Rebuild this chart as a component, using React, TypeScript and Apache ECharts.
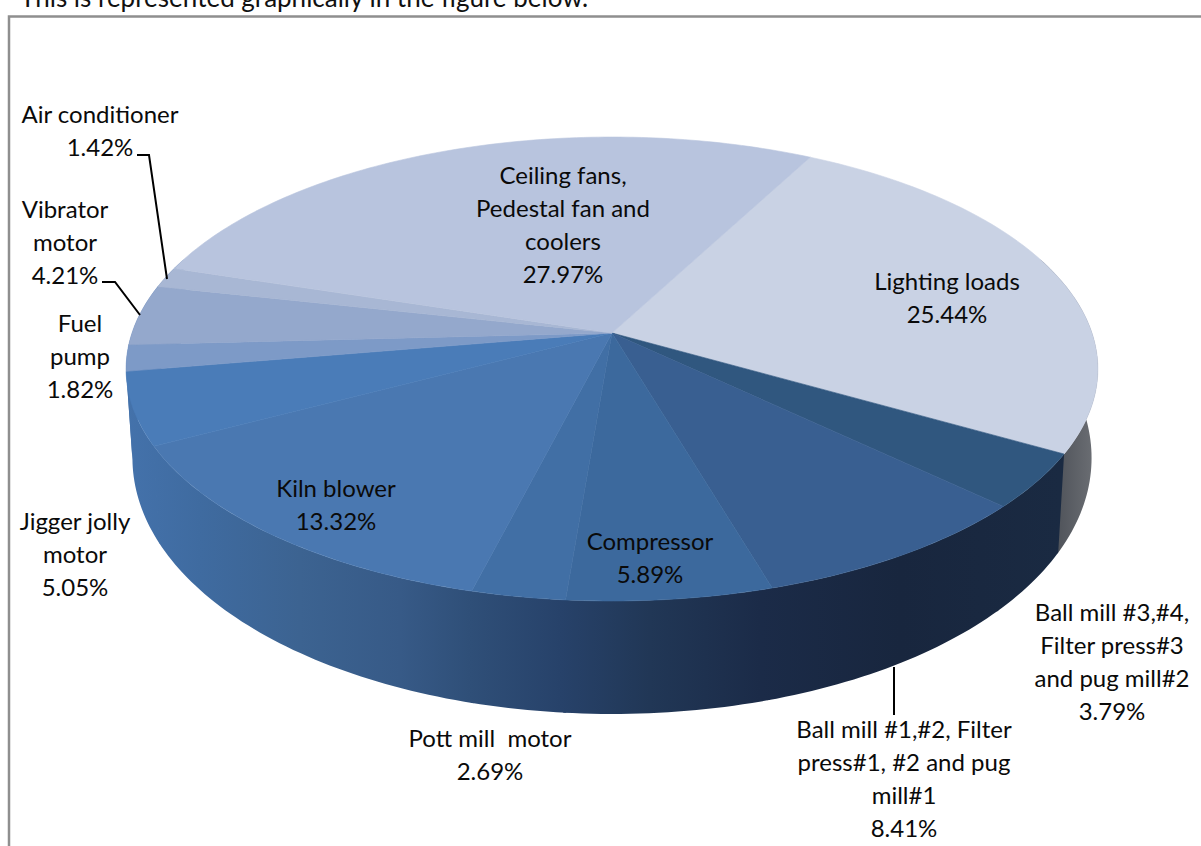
import React, { useEffect, useRef } from "react";
import * as echarts from "echarts";

// Electrical load shares, clockwise from the start of the first slice.
const loadNames = [
  "Lighting loads",
  "Ball mill #3,#4,\nFilter press#3\nand pug mill#2",
  "Ball mill #1,#2, Filter\npress#1, #2 and pug\nmill#1",
  "Compressor",
  "Pott mill  motor",
  "Kiln blower",
  "Jigger jolly\nmotor",
  "Fuel\npump",
  "Vibrator\nmotor",
  "Air conditioner",
  "Ceiling fans,\nPedestal fan and\ncoolers",
];
const loadShares = [25.44, 3.79, 8.41, 5.89, 2.69, 13.32, 5.05, 1.82, 4.21, 1.42, 27.97];

// Styling and layout, kept apart from the values.
const topColors = [
  "#c9d2e4", "#30577f", "#395f91", "#3c699d", "#416fa5", "#4a78b1",
  "#4a7cb8", "#7d9ac7", "#94a8cc", "#a8b7d4", "#b8c4de",
];
const sideStops: [number, string][] = [
  [125, "#4472ab"], [200, "#3f6ba0"], [300, "#3c6391"], [400, "#375a87"],
  [470, "#2f4f78"], [560, "#27426a"], [650, "#213756"], [760, "#1b2b48"],
  [900, "#18263e"], [1060, "#1a2a42"],
];
const labelCenters: [number, number][] = [
  [947, 297], [1112, 661], [904, 778], [650, 557], [490, 754], [336, 504],
  [75, 553], [80, 355], [65, 241], [100, 130], [563, 224],
];
const leaderLines: [number, number][][] = [
  [[137, 155], [149, 155], [167, 279]],
  [[102, 282], [115, 282], [140, 315]],
  [[894, 667], [894, 715]],
];

const FONT = "Lato";
const FONT_SIZE = 24;
const HEADING_SIZE = 26;
const LINE_HEIGHT = 33;

// Perspective projection of the pie's unit circle onto the page.
const CX = 612;
const HALF_WIDTH = 480;
const CENTER_Y = 333;
const DEPTH_SPAN = 174.7;
const PERSPECTIVE = 0.1552;
const START_DEG = 28;

// Part of the rim whose outer wall can be seen, in degrees clockwise from the back.
const WALL_FROM = 70;
const WALL_TO = 290;

const rimPoint = (deg: number): [number, number] => {
  const a = (deg * Math.PI) / 180;
  const x = Math.sin(a);
  const y = -Math.cos(a);
  const w = 1 - PERSPECTIVE * y;
  return [CX + (HALF_WIDTH * x) / w, (CENTER_Y + DEPTH_SPAN * y) / w];
};

const basePoint = (deg: number): [number, number] => {
  const [px, py] = rimPoint(deg);
  const y = -Math.cos((deg * Math.PI) / 180);
  return [CX + (px - CX) * 0.987, py + 84.5 + 28.5 * y];
};

const total = loadShares.reduce((s, v) => s + v, 0);
const sliceAngles = (index: number): [number, number] => {
  const before = loadShares.slice(0, index).reduce((s, v) => s + v, 0);
  return [
    START_DEG + (before / total) * 360,
    START_DEG + ((before + loadShares[index]) / total) * 360,
  ];
};

const arcAngles = (from: number, to: number): number[] => {
  const steps = Math.max(2, Math.ceil(to - from));
  const out: number[] = [];
  for (let i = 0; i <= steps; i++) out.push(from + ((to - from) * i) / steps);
  return out;
};

const sideGradient = new echarts.graphic.LinearGradient(
  125, 0, 1060, 0,
  sideStops.map(([x, color]) => ({ offset: (x - 125) / (1060 - 125), color })),
  true,
);
const lightingSideGradient = new echarts.graphic.LinearGradient(
  1055, 0, 1098, 0,
  [{ offset: 0, color: "#4e5259" }, { offset: 1, color: "#6e7176" }],
  true,
);

export default function App() {
  const ref = useRef<HTMLDivElement>(null);

  useEffect(() => {
    document.body.style.margin = "0";
    const chart = echarts.init(ref.current!, undefined, { renderer: "svg" });

    const labelTexts = loadNames.map((name, i) => ({
      type: "text",
      x: labelCenters[i][0],
      y: labelCenters[i][1],
      z: 20,
      style: {
        text: `${name}\n${loadShares[i].toFixed(2)}%`,
        font: `${FONT_SIZE}px ${FONT}`,
        fill: "#0a0a0a",
        align: "center",
        verticalAlign: "middle",
        lineHeight: LINE_HEIGHT,
      },
    }));

    const leaders = leaderLines.map((points) => ({
      type: "polyline",
      z: 15,
      shape: { points },
      style: { stroke: "#000", lineWidth: 2, fill: "none" },
    }));

    chart.setOption({
      animation: false,
      backgroundColor: "#fff",
      graphic: [
        {
          type: "text",
          x: 20,
          y: -3,
          z: 20,
          style: {
            text: "This is represented graphically in the figure below.",
            font: `${HEADING_SIZE}px ${FONT}`,
            fill: "#111",
            verticalAlign: "middle",
          },
        },
        {
          type: "polyline",
          z: 1,
          shape: { points: [[9, 846], [9, 16.5], [1201, 16.5]] },
          style: { stroke: "#8f8f8f", lineWidth: 2.5, fill: "none" },
        },
        ...leaders,
        ...labelTexts,
      ],
      series: [
        {
          // Outer wall of the pie, drawn under the top faces.
          type: "custom",
          coordinateSystem: "none",
          z: 2,
          silent: true,
          data: loadShares,
          renderItem: (params: any) => {
            const [sliceFrom, sliceTo] = sliceAngles(params.dataIndex);
            const from = Math.max(sliceFrom, WALL_FROM);
            // Slight overlap with the next wall so no seam shows between them.
            const to = Math.min(sliceTo + 0.3, WALL_TO);
            if (to <= from) return null;
            const angles = arcAngles(from, to);
            const points = [
              ...angles.map(rimPoint),
              ...angles.slice().reverse().map(basePoint),
            ];
            const fill = params.dataIndex === 0 ? lightingSideGradient : sideGradient;
            return { type: "polygon", shape: { points }, style: { fill } };
          },
        },
        {
          // Top faces, one wedge per load.
          type: "custom",
          coordinateSystem: "none",
          z: 3,
          silent: true,
          data: loadShares,
          renderItem: (params: any) => {
            const [from, to] = sliceAngles(params.dataIndex);
            const points = [[CX, CENTER_Y], ...arcAngles(from, to).map(rimPoint)];
            const color = topColors[params.dataIndex];
            return {
              type: "polygon",
              shape: { points },
              style: { fill: color, stroke: color, lineWidth: 0.6 },
            };
          },
        },
      ],
    });

    return () => chart.dispose();
  }, []);

  return <div ref={ref} style={{ width: 1201, height: 846, overflow: "hidden" }} />;
}
